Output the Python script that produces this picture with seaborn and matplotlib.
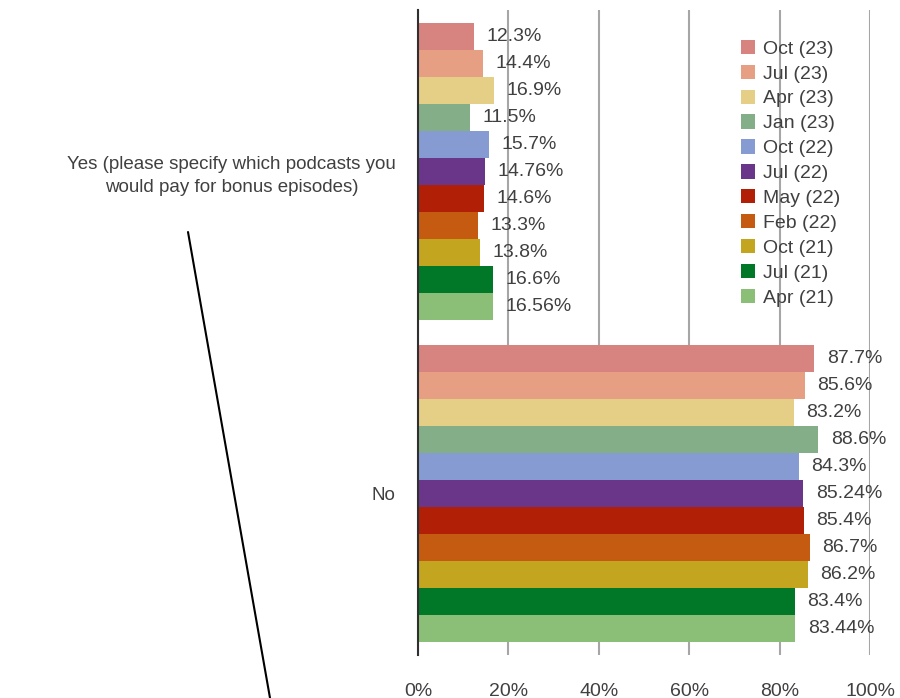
import pandas as pd
import seaborn as sns
import matplotlib.pyplot as plt
from matplotlib.lines import Line2D

# %% data _____________________________________________________________________
answers = ['Yes (please specify which podcasts you\nwould pay for bonus episodes)', 'No']
waves = ['Oct (23)', 'Jul (23)', 'Apr (23)', 'Jan (23)', 'Oct (22)', 'Jul (22)',
         'May (22)', 'Feb (22)', 'Oct (21)', 'Jul (21)', 'Apr (21)']
yes_vals = [12.3, 14.4, 16.9, 11.5, 15.7, 14.76, 14.6, 13.3, 13.8, 16.6, 16.56]
no_vals = [87.7, 85.6, 83.2, 88.6, 84.3, 85.24, 85.4, 86.7, 86.2, 83.4, 83.44]
colors = ['#D7837F', '#E79F84', '#E5CE85', '#84AE87', '#879BD3', '#69368A',
          '#B01F06', '#C55A11', '#C4A520', '#007828', '#8BBF78']

df = pd.DataFrame({
    'answer': [answers[0]] * len(waves) + [answers[1]] * len(waves),
    'wave': waves + waves,
    'value': yes_vals + no_vals,
})

# %% plot _____________________________________________________________________
sns.set_theme(style="whitegrid")
plt.rcParams['font.family'] = ['Liberation Sans', 'DejaVu Sans']
txt = '#404040'

fig = plt.figure(figsize=(9, 6.98), dpi=100)
ax = fig.add_axes([0.4644, 0.0616, 0.5023, 0.9241])
sns.barplot(data=df, x='value', y='answer', hue='wave', hue_order=waves,
            order=answers, palette=colors, orient='h', width=0.92,
            linewidth=0, saturation=1, ax=ax, legend=True)

for cont in ax.containers:
    ax.bar_label(cont, labels=[f'{b.get_width():g}%' for b in cont],
                 padding=9, fontsize=14, color=txt)

ax.set_xlim(0, 100)
ax.set_ylim(1.5, -0.5)
ax.set_xticks([0, 20, 40, 60, 80, 100])
ax.set_xticklabels([f'{t}%' for t in [0, 20, 40, 60, 80, 100]])
ax.set_xlabel('')
ax.set_ylabel('')
ax.grid(axis='x', color='#A6A6A6', linewidth=1.5)
ax.grid(axis='y', visible=False)
ax.set_axisbelow(True)
for s in ['top', 'right', 'bottom']:
    ax.spines[s].set_visible(False)
ax.spines['left'].set_color('#303030')
ax.spines['left'].set_linewidth(1.5)
ax.tick_params(axis='x', length=0, pad=20, labelsize=14, labelcolor=txt)
ax.tick_params(axis='y', length=0, pad=16, labelsize=13.5, labelcolor=txt)
for lab in ax.get_yticklabels():
    lab.set_multialignment('center')
    lab.set_linespacing(1.45)

leg = ax.legend(loc='upper left', bbox_to_anchor=(0.823, 0.943),
                bbox_transform=fig.transFigure, frameon=False, fontsize=14,
                handlelength=0.75, handleheight=0.75, handletextpad=0.4,
                labelspacing=0.36, borderpad=0, borderaxespad=0)
for t in leg.get_texts():
    t.set_color(txt)

# leader line from the label
fig.add_artist(Line2D([0.2089, 0.3], [0.6676, 0.0], color='black', linewidth=1.5))

fig.savefig('out.png', dpi=100)
